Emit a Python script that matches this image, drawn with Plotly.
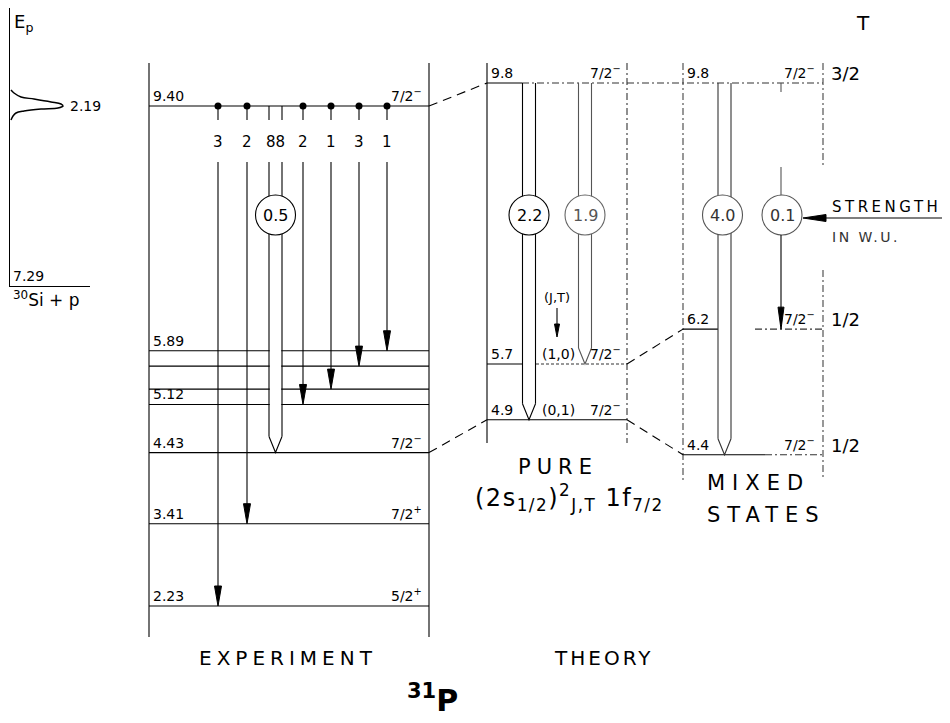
import plotly.graph_objects as go

# ---------------- data ----------------
# inset: yield curve of the 30Si + p resonance (Ep in MeV, yield in arb. units)
inset_ep = [2.385, 2.348, 2.300, 2.275, 2.239, 2.214, 2.190, 2.166, 2.154, 2.129, 2.105, 2.068, 2.020]
inset_yield = [3, 6, 13, 26, 43, 53, 55, 50, 33, 16, 8, 5, 3]
resonance_ep = 2.19
threshold_ex = "7.29"

# experiment (MeV)
exp_levels = [9.40, 5.89, 5.67, 5.34, 5.12, 4.43, 3.41, 2.23]
exp_level_text = ["9.40", "5.89", "", "", "5.12", "4.43", "3.41", "2.23"]
exp_spin_text = ["7/2<sup>−</sup>", "", "", "", "", "7/2<sup>−</sup>", "7/2<sup>+</sup>", "5/2<sup>+</sup>"]
exp_initial = 9.40
branch_final = [2.23, 3.41, 5.12, 5.34, 5.67, 5.89]
branch_pct = ["3", "2", "2", "1", "3", "1"]
m1_final = 4.43
m1_pct = "88"
m1_strength = "0.5"

# theory, pure configuration
pure_level_text = ["9.8", "5.7", "4.9"]
pure_levels = [9.73, 5.7, 4.9]          # where the levels are drawn
pure_jt = ["", "(1,0)", "(0,1)"]
pure_final = [4.9, 5.7]
pure_strength = ["2.2", "1.9"]

# theory, mixed states
mixed_level_text = ["9.8", "6.2", "4.4"]
mixed_levels = [9.73, 6.2, 4.4]
mixed_T = ["3/2", "1/2", "1/2"]
mixed_final = [4.4, 6.2]
mixed_strength = ["4.0", "0.1"]

SPIN = "7/2<sup>−</sup>"

# ---------------- layout helpers ----------------
OFF = 8                              # page margin of the html body
W, H = 950, 723
PX = (9.40 - 2.23) / 500.0          # MeV per pixel of the drawing


def E(py):
    return 2.23 + (606 - py) * PX


FONT = "DejaVu Sans"
shapes = []
annotations = []


def seg(x0, y0, x1, y1, w=1.1, dash="solid", color="black"):
    shapes.append(dict(type="line", xref="x", yref="y", x0=x0, y0=y0, x1=x1, y1=y1,
                       line=dict(color=color, width=w, dash=dash)))


def white_rect(x0, x1, y0, y1):
    shapes.append(dict(type="rect", xref="x", yref="y", x0=x0, x1=x1, y0=y0, y1=y1,
                       fillcolor="white", line=dict(width=0)))


def arrow_down(x, ytip, h=20, w=3.5, color="black"):
    yb = ytip + h * PX
    shapes.append(dict(type="path", xref="x", yref="y",
                       path=f"M {x - w},{yb} L {x + w},{yb} L {x},{ytip} Z",
                       fillcolor=color, line=dict(color=color, width=1)))


def circle(cx, cy, r=20, color="black"):
    shapes.append(dict(type="circle", xref="x", yref="y", x0=cx - r, x1=cx + r,
                       y0=cy - r * PX, y1=cy + r * PX, fillcolor="white",
                       line=dict(color=color, width=1.1)))


def band(xc, ytop, yend, gaps=None, hw=6.5, color="black", vdepth=16):
    vstart = yend + vdepth * PX
    white_rect(xc - hw + 0.7, xc + hw - 0.7, vstart, ytop - 1.5 * PX)
    for xs in (xc - hw, xc + hw):
        if gaps:
            seg(xs, ytop, xs, gaps[0], color=color)
            seg(xs, gaps[1], xs, vstart, color=color)
        else:
            seg(xs, ytop, xs, vstart, color=color)
    shapes.append(dict(type="path", xref="x", yref="y",
                       path=f"M {xc - hw},{vstart} L {xc},{yend} L {xc + hw},{vstart}",
                       line=dict(color=color, width=1.1)))


def ann(x, y, text, size=14, xanchor="left", yanchor="bottom", xref="x", yref="y",
        yshift=0, color="black", spacing=0, bold=False):
    if spacing:
        text = f'<span style="letter-spacing:{spacing}px">{text}</span>'
    font = dict(family=FONT, size=size, color=color)
    if bold:
        font["weight"] = "bold"
    annotations.append(dict(x=x, y=y, xref=xref, yref=yref, text=text, showarrow=False,
                            xanchor=xanchor, yanchor=yanchor, yshift=yshift, font=font))


# columns of the drawing (horizontal layout units)
EXP_L, EXP_R = 149, 429
BR_X = [218, 247, 303, 331, 359, 387]
M1_X = 275.5
PURE_L, PURE_R = 487, 627
PURE_X = [529, 585]
MIX_L, MIX_R = 683, 823
MIX_X = [724.5, 781]
CIRC_Y = E(215)
DASH = "9px,6px"
DASHDOT = "7px,3px,2px,3px"

# ---------------- experiment ----------------
seg(EXP_L, E(63), EXP_L, E(637))
seg(EXP_R, E(63), EXP_R, E(637))
for lv in exp_levels:
    seg(EXP_L, lv, EXP_R, lv)
gap = (exp_initial - 14 * PX, exp_initial - 56 * PX)
band(M1_X, exp_initial, m1_final, gaps=gap)
circle(M1_X, CIRC_Y)
for x, ef in zip(BR_X, branch_final):
    seg(x, exp_initial, x, gap[0])
    seg(x, gap[1], x, ef + 5 * PX)
    arrow_down(x, ef)

for lv, t, s in zip(exp_levels, exp_level_text, exp_spin_text):
    if t:
        ann(EXP_L + 2, lv, t)
    if s:
        ann(EXP_R - 5, lv, s, xanchor="right")
for x, p in zip(BR_X, branch_pct):
    ann(x, exp_initial - 36 * PX, p, size=15, xanchor="center", yanchor="middle")
ann(M1_X, exp_initial - 36 * PX, m1_pct, size=15, xanchor="center", yanchor="middle")
ann(M1_X, CIRC_Y, m1_strength, size=16, xanchor="center", yanchor="middle")

# ---------------- theory: pure ----------------
top = pure_levels[0]
seg(PURE_L, E(63), PURE_L, E(443))
seg(PURE_R, E(63), PURE_R, E(443), dash=DASHDOT, color="#333")
seg(PURE_L, top, PURE_X[0] - 7, top)
seg(PURE_X[0] - 7, top, MIX_R, top, dash=DASHDOT, color="#333")
seg(PURE_L, pure_levels[1], PURE_X[0] - 7, pure_levels[1])
seg(PURE_X[0] + 7, pure_levels[1], PURE_R, pure_levels[1], dash="3px,2px", color="#333")
seg(PURE_L, pure_levels[2], PURE_R, pure_levels[2])
band(PURE_X[0], top, pure_final[0])
circle(PURE_X[0], CIRC_Y)
band(PURE_X[1], top, pure_final[1], color="#555")
circle(PURE_X[1], CIRC_Y, color="#666")
for xc, s, c in zip(PURE_X, pure_strength, ["black", "#555"]):
    ann(xc, CIRC_Y, s, size=16, xanchor="center", yanchor="middle", color=c)
seg(557, E(308), 557, E(330))
arrow_down(557, E(337), h=13, w=2.5)
ann(557, E(297), "(J,T)", size=13, xanchor="center", yanchor="middle")

for lv, t, jt in zip(pure_levels, pure_level_text, pure_jt):
    ann(PURE_L + 2, lv, t)
    if jt:
        ann(540, lv, jt)
    ann(PURE_R - 4, lv, SPIN, xanchor="right")

# ---------------- theory: mixed ----------------
seg(MIX_L, E(63), MIX_L, E(480), dash=DASHDOT, color="#444")
seg(MIX_R, E(63), MIX_R, E(167), dash=DASHDOT, color="#444")
seg(MIX_R, E(270), MIX_R, E(480), dash=DASHDOT, color="#444")
seg(MIX_L, mixed_levels[1], MIX_X[0] - 6.5, mixed_levels[1])
seg(755, mixed_levels[1], MIX_R, mixed_levels[1], dash=DASHDOT, color="#333")
seg(MIX_L, mixed_levels[2], 765, mixed_levels[2])
seg(765, mixed_levels[2], MIX_R, mixed_levels[2], dash=DASHDOT, color="#333")
band(MIX_X[0], top, mixed_final[0], color="#333")
circle(MIX_X[0] - 2, CIRC_Y, color="#555")
seg(MIX_X[1], top, MIX_X[1], top - 9 * PX, color="#555")
seg(MIX_X[1], E(167), MIX_X[1], E(197), color="#555")
circle(MIX_X[1] + 1, CIRC_Y, color="#555")
seg(MIX_X[1], E(235), MIX_X[1], mixed_final[1] + 5 * PX)
arrow_down(MIX_X[1], mixed_final[1], h=22, w=3)
ann(MIX_X[0] - 2, CIRC_Y, mixed_strength[0], size=16, xanchor="center", yanchor="middle", color="#333")
ann(MIX_X[1] + 1, CIRC_Y, mixed_strength[1], size=16, xanchor="center", yanchor="middle", color="#333")

# strength pointer
ys = E(218)
seg(815, ys, 945, ys)
shapes.append(dict(type="path", xref="x", yref="y",
                   path=f"M 803,{ys} L 826,{ys + 3.5 * PX} L 826,{ys - 3.5 * PX} Z",
                   fillcolor="black", line=dict(color="black", width=1)))
ann(830, ys, "STRENGTH", size=15, spacing=3.5)
ann(830, E(227), "IN W.U.", size=14, yanchor="top", spacing=2.5, color="#333")

for lv, t, T in zip(mixed_levels, mixed_level_text, mixed_T):
    ann(MIX_L + 2, lv, t)
    ann(MIX_R - 6, lv, SPIN, xanchor="right")
    ann(829, lv, T, size=18, yshift=-3)
ann(863, E(9), "T", size=20, xanchor="center", yanchor="top")

# connectors
seg(EXP_R, exp_levels[0], PURE_L, pure_levels[0], dash=DASH)
seg(EXP_R, m1_final, PURE_L, pure_final[0], dash=DASH)
seg(PURE_R, pure_levels[2], MIX_L, mixed_levels[2], dash=DASH)
seg(PURE_R, pure_levels[1], MIX_L, mixed_levels[1], dash=DASH)

# titles
ann(558, E(467), "PURE", size=21, xanchor="center", yanchor="middle", spacing=6)
ann(569, E(497), "(2s<sub>1/2</sub>)<sup>2</sup><sub>J,T</sub> 1f<sub>7/2</sub>", size=24,
    xanchor="center", yanchor="middle", spacing=1.5)
ann(705, E(483), "MIXED", size=21, xanchor="left", yanchor="middle", spacing=7)
ann(705, E(515), "STATES", size=21, xanchor="left", yanchor="middle", spacing=7)
ann(288, E(658), "EXPERIMENT", size=20, xanchor="center", yanchor="middle", spacing=5)
ann(603, E(658), "THEORY", size=20, xanchor="center", yanchor="middle", spacing=3)
ann(432, E(698), "<sup>31</sup>P", size=30, xanchor="center", yanchor="middle", bold=True)

# inset texts
ann(12, E(9), "E<sub>p</sub>", size=18, yanchor="top")
ann(60, resonance_ep, "2.19", size=14, xref="x2", yref="y2", yanchor="middle")
ann(3, 0, threshold_ex, size=14, xref="x2", yref="y2")
ann(3, 0, "<sup>30</sup>Si + p", size=17, xref="x2", yref="y2", yanchor="top")

# ---------------- figure ----------------
fig = go.Figure()
fig.add_trace(go.Scatter(x=BR_X, y=[exp_initial] * len(BR_X), mode="markers",
                         marker=dict(color="black", size=7), xaxis="x", yaxis="y",
                         hoverinfo="skip", showlegend=False))
fig.add_trace(go.Scatter(x=inset_yield, y=inset_ep, mode="lines",
                         line=dict(color="black", width=1.5, shape="spline"),
                         xaxis="x2", yaxis="y2", hoverinfo="skip", showlegend=False))

fw, fh = W - OFF, H - OFF
AX_L = 10                            # page x of the inset's vertical axis
fig.update_layout(
    width=fw, height=fh, autosize=False,
    margin=dict(l=0, r=0, t=0, b=0),
    paper_bgcolor="white", plot_bgcolor="rgba(0,0,0,0)",
    showlegend=False,
    xaxis=dict(domain=[0, 1], range=[OFF, W], visible=False, fixedrange=True),
    yaxis=dict(domain=[0, 1], range=[E(H), E(OFF)], visible=False, fixedrange=True),
    xaxis2=dict(domain=[(AX_L - OFF) / fw, (90 - OFF) / fw], range=[2, 82], anchor="y2",
                showline=True, linecolor="black", linewidth=1.2, showticklabels=False,
                ticks="", showgrid=False, zeroline=False, fixedrange=True),
    yaxis2=dict(domain=[1 - (286 - OFF) / fh, 1], range=[0, 2.19 * (286 - OFF) / 180],
                anchor="x2", showline=True,
                linecolor="black", linewidth=1.2, showticklabels=False, ticks="",
                showgrid=False, zeroline=False, fixedrange=True),
    shapes=shapes,
    annotations=annotations,
)

fig.write_html("out.html")
